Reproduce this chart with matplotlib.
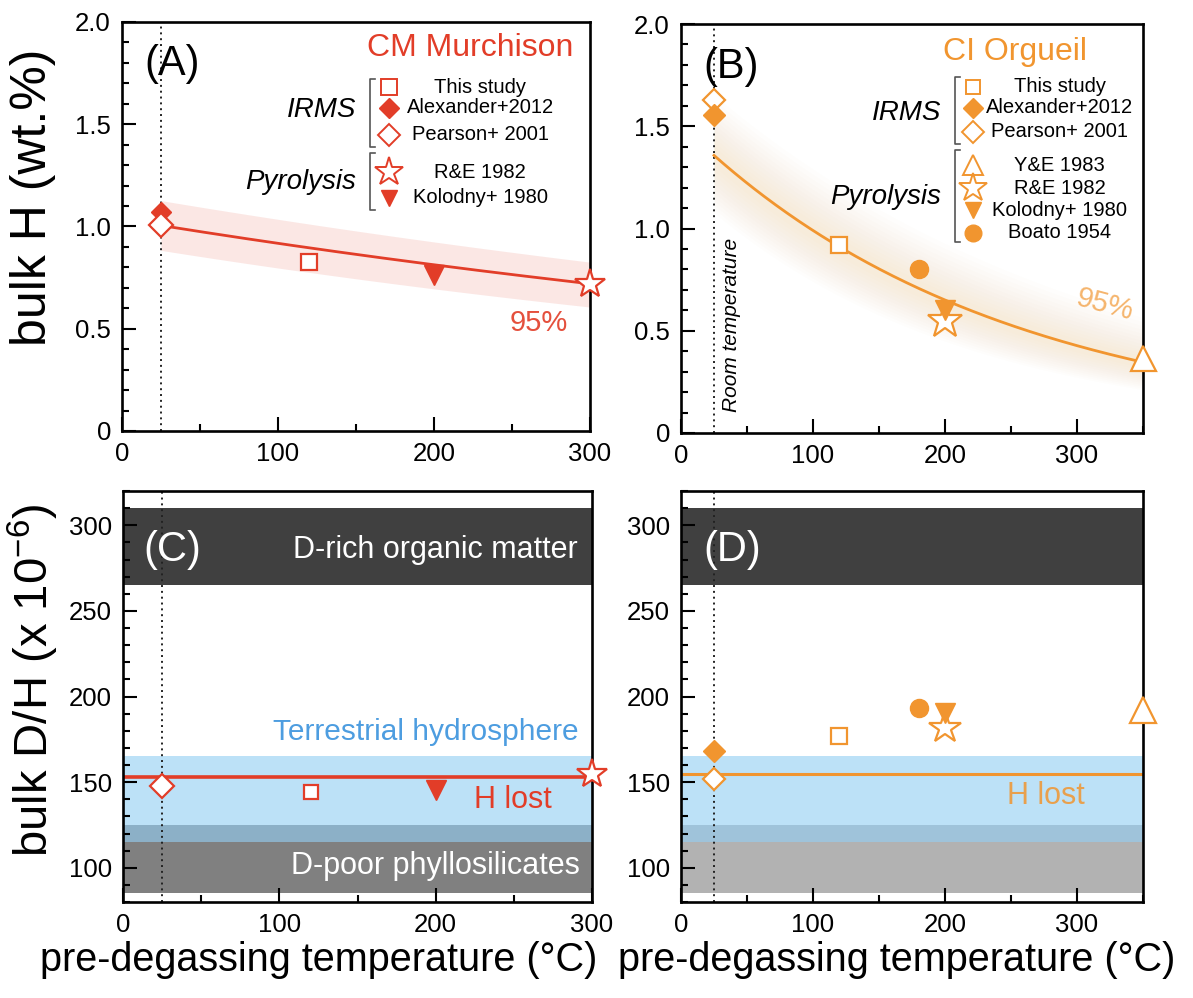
import numpy as np
import matplotlib
matplotlib.use("Agg")
import matplotlib.pyplot as plt
from matplotlib import font_manager
from matplotlib.lines import Line2D
from matplotlib.ticker import MultipleLocator, FuncFormatter

# ---------------- data ----------------
room_T = 25

# CM Murchison: bulk H (wt.%) and bulk D/H (x1e-6) vs pre-degassing temperature (°C)
cm_this_T, cm_this_H, cm_this_DH = [120], [0.826], [144]
cm_alex_T, cm_alex_H = [25], [1.07]
cm_pear_T, cm_pear_H, cm_pear_DH = [25], [1.005], [147.5]
cm_re_T, cm_re_H, cm_re_DH = [300], [0.72], [155]
cm_kol_T, cm_kol_H, cm_kol_DH = [200], [0.761], [145.5]
cm_hlost_DH = 153

# CI Orgueil
ci_this_T, ci_this_H, ci_this_DH = [120], [0.92], [177]
ci_alex_T, ci_alex_H, ci_alex_DH = [25], [1.554], [168]
ci_pear_T, ci_pear_H, ci_pear_DH = [25], [1.627], [152]
ci_ye_T, ci_ye_H, ci_ye_DH = [350], [0.366], [192]
ci_re_T, ci_re_H, ci_re_DH = [200], [0.546], [181.7]
ci_kol_T, ci_kol_H, ci_kol_DH = [200], [0.603], [190.5]
ci_boa_T, ci_boa_H, ci_boa_DH = [180], [0.80], [193]
ci_hlost_DH = 155

# exponential H-loss fits  H = amp * exp(-rate * T)  with 95% envelope
cm_fit = (1.036, 0.001213)
cm_fit_hi = (1.159, 0.00113)
cm_fit_lo = (0.914, 0.001369)
cm_fit_range = (25, 300)
ci_fit = (1.508, 0.004205)
ci_fit_hi = (1.745, 0.003458)
ci_fit_lo = (1.265, 0.00487)
ci_fit_range = (25, 350)

# D/H reference reservoirs (x1e-6)
d_rich_om = (265, 310)
terrestrial_hydro = (115, 165)
d_poor_phyllo = (85, 125)

# ---------------- style ----------------
def font_available(name):
    try:
        font_manager.findfont(font_manager.FontProperties(family=name),
                              fallback_to_default=False)
        return True
    except Exception:
        return False

BASE = "Liberation Sans" if font_available("Liberation Sans") else "DejaVu Sans"
NARROW = "Liberation Sans Narrow" if font_available("Liberation Sans Narrow") else BASE
plt.rcParams["font.family"] = [BASE, "DejaVu Sans"]
plt.rcParams["mathtext.default"] = "regular"

RED = "#e23d28"
ORANGE = "#f1952f"
BAND_OR = "#f7b34a"
BLUE_TXT = "#4d9de0"

W, H = 1193, 998
fig = plt.figure(figsize=(W / 100, H / 100), dpi=100)


def px_axes(x0, y0, x1, y1):
    return fig.add_axes([x0 / W, 1 - y1 / H, (x1 - x0) / W, (y1 - y0) / H])


axA = px_axes(122, 22, 590, 431)
axB = px_axes(681, 24, 1143, 433)
axC = px_axes(123, 491, 592, 902)
axD = px_axes(681, 491, 1143, 902)


def hfmt(v, _):
    return "0" if abs(v) < 1e-9 else f"{v:.1f}"


def style(ax, xmax, ylim, ymaj, ymin, fmt=None):
    ax.set_xlim(0, xmax)
    ax.set_ylim(*ylim)
    ax.xaxis.set_major_locator(MultipleLocator(100))
    ax.xaxis.set_minor_locator(MultipleLocator(50))
    ax.yaxis.set_major_locator(MultipleLocator(ymaj))
    ax.yaxis.set_minor_locator(MultipleLocator(ymin))
    if fmt:
        ax.yaxis.set_major_formatter(FuncFormatter(fmt))
    ax.tick_params(which="both", direction="in", top=False, right=False,
                   width=1.5, labelsize=18.5, pad=8, colors="black")
    ax.tick_params(which="major", length=10)
    ax.tick_params(which="minor", length=5)
    for s in ax.spines.values():
        s.set_linewidth(1.9)
    ax.axvline(room_T, color="#222222", ls=(0, (1, 2)), lw=1.4, zorder=1.5)


style(axA, 300, (0, 2.0), 0.5, 0.1, hfmt)
style(axB, 350, (0, 2.0), 0.5, 0.1, hfmt)
style(axC, 300, (80, 320), 50, 10)
style(axD, 350, (80, 320), 50, 10)


def expcurve(p, T):
    return p[0] * np.exp(-p[1] * T)


# ---- panel A: fit + band ----
TA = np.linspace(*cm_fit_range, 200)
axA.fill_between(TA, expcurve(cm_fit_lo, TA), expcurve(cm_fit_hi, TA),
                 color=RED, alpha=0.12, lw=0, zorder=1)
axA.plot(TA, expcurve(cm_fit, TA), color=RED, lw=2, zorder=2)

# ---- panel B: fit + soft band ----
TB = np.linspace(*ci_fit_range, 300)
midB = expcurve(ci_fit, TB)
hiB = expcurve(ci_fit_hi, TB)
loB = expcurve(ci_fit_lo, TB)
for s in np.linspace(1.2, 0.2, 12):
    axB.fill_between(TB, midB * (loB / midB) ** s, midB * (hiB / midB) ** s,
                     color=BAND_OR, alpha=0.014, lw=0, zorder=1)
axB.plot(TB, midB, color=ORANGE, lw=2, zorder=2)

mk = dict(clip_on=False, zorder=4, ls="none")


def open_(c, m, s, ew=1.6):
    return dict(marker=m, ms=s, mfc="white", mec=c, mew=ew, **mk)


def fill_(c, m, s):
    return dict(marker=m, ms=s, mfc=c, mec=c, mew=1, **mk)


# ---- panel A markers ----
axA.plot(cm_alex_T, cm_alex_H, **fill_(RED, "D", 10))
axA.plot(cm_pear_T, cm_pear_H, **open_(RED, "D", 12))
axA.plot(cm_this_T, cm_this_H, **open_(RED, "s", 11))
axA.plot(cm_kol_T, cm_kol_H, **fill_(RED, "v", 14))
axA.plot(cm_re_T, cm_re_H, **open_(RED, "*", 22))

# ---- panel B markers ----
axB.plot(ci_pear_T, ci_pear_H, **open_(ORANGE, "D", 11))
axB.plot(ci_alex_T, ci_alex_H, **fill_(ORANGE, "D", 11))
axB.plot(ci_this_T, ci_this_H, **open_(ORANGE, "s", 11))
axB.plot(ci_boa_T, ci_boa_H, **fill_(ORANGE, "o", 13))
axB.plot(ci_re_T, ci_re_H, **open_(ORANGE, "*", 26))
axB.plot(ci_kol_T, ci_kol_H, **fill_(ORANGE, "v", 14))
axB.plot(ci_ye_T, ci_ye_H, **open_(ORANGE, "^", 18))

# ---- panels C, D: reservoirs ----
for ax, grey in ((axC, "#808080"), (axD, "#b2b2b2")):
    ax.axhspan(*d_rich_om, color="#404040", lw=0, zorder=0.5)
    ax.axhspan(*d_poor_phyllo, color=grey, lw=0, zorder=0.5)
    ax.axhspan(*terrestrial_hydro, color="#94cff3", alpha=0.62, lw=0, zorder=0.6)

axC.axhline(cm_hlost_DH, color=RED, lw=2.6, zorder=2)
axC.plot(cm_pear_T, cm_pear_DH, **open_(RED, "D", 12))
axC.plot(cm_this_T, cm_this_DH, **open_(RED, "s", 10))
axC.plot(cm_kol_T, cm_kol_DH, **fill_(RED, "v", 14))
axC.plot(cm_re_T, cm_re_DH, **open_(RED, "*", 22))

axD.axhline(ci_hlost_DH, color=ORANGE, lw=2.2, zorder=2)
axD.plot(ci_alex_T, ci_alex_DH, **fill_(ORANGE, "D", 11))
axD.plot(ci_pear_T, ci_pear_DH, **open_(ORANGE, "D", 11))
axD.plot(ci_this_T, ci_this_DH, **open_(ORANGE, "s", 12))
axD.plot(ci_boa_T, ci_boa_DH, **fill_(ORANGE, "o", 13))
axD.plot(ci_re_T, ci_re_DH, **open_(ORANGE, "*", 24))
axD.plot(ci_kol_T, ci_kol_DH, **fill_(ORANGE, "v", 14))
axD.plot(ci_ye_T, ci_ye_DH, **open_(ORANGE, "^", 19))

# ---- texts ----
axA.text(0.047, 0.897, "(A)", transform=axA.transAxes, fontsize=30, va="center", ha="left")
axB.text(0.048, 0.895, "(B)", transform=axB.transAxes, fontsize=30, va="center", ha="left")
axC.text(0.043, 0.856, "(C)", transform=axC.transAxes, fontsize=30, va="center",
         ha="left", color="white")
axD.text(0.048, 0.856, "(D)", transform=axD.transAxes, fontsize=30, va="center",
         ha="left", color="white")

axA.text(0.964, 0.936, "CM Murchison", transform=axA.transAxes, fontsize=23,
         color=RED, ha="right", va="center")
axB.text(0.879, 0.932, "CI Orgueil", transform=axB.transAxes, fontsize=23,
         color=ORANGE, ha="right", va="center")

axA.text(267, 0.527, "95%", fontsize=21, color=RED, ha="center", va="center", alpha=0.9)
axB.text(321, 0.627, "95%", fontsize=21, color=ORANGE, ha="center", va="center",
         rotation=-15, alpha=0.7)
axB.text(0.11, 0.265, "Room temperature", transform=axB.transAxes, rotation=90,
         fontsize=15, style="italic", ha="center", va="center")

axC.text(0.97, 0.857, "D-rich organic matter", transform=axC.transAxes, fontsize=22,
         color="white", ha="right", va="center")
axC.text(0.972, 0.413, "Terrestrial hydrosphere", transform=axC.transAxes, fontsize=21.5,
         color=BLUE_TXT, ha="right", va="center")
axC.text(0.915, 0.248, "H lost", transform=axC.transAxes, fontsize=22,
         color=RED, ha="right", va="center")
axC.text(0.975, 0.087, "D-poor phyllosilicates", transform=axC.transAxes, fontsize=22,
         color="white", ha="right", va="center")
axD.text(0.874, 0.258, "H lost", transform=axD.transAxes, fontsize=22,
         color=ORANGE, ha="right", va="center", alpha=0.85)


# ---- grouped keys with brackets ----
def key_block(ax, color, groups, mx, tx, bx, fs=14.5):
    for gname, gy, top, bot, entries in groups:
        ax.text(bx - 0.03, gy, gname, transform=ax.transAxes, fontsize=20,
                style="italic", ha="right", va="center")
        ax.add_line(Line2D([bx + 0.011, bx, bx, bx + 0.011], [top, top, bot, bot],
                           transform=ax.transAxes, color="#555555", lw=1.2,
                           clip_on=False))
        for (label, y, style_kw) in entries:
            ax.add_line(Line2D([mx], [y], transform=ax.transAxes, **style_kw))
            ax.text(tx, y, label, transform=ax.transAxes, fontsize=fs,
                    ha="center", va="center")


def kopen(c, m, s, ew=1.4):
    return dict(marker=m, ms=s, mfc="white", mec=c, mew=ew, ls="none")


def kfill(c, m, s):
    return dict(marker=m, ms=s, mfc=c, mec=c, mew=1, ls="none")


key_block(axA, RED, [
    ("IRMS", 0.785, 0.861, 0.694, [
        ("This study", 0.841, kopen(RED, "s", 11)),
        ("Alexander+2012", 0.790, kfill(RED, "D", 10)),
        ("Pearson+ 2001", 0.724, kopen(RED, "D", 11)),
    ]),
    ("Pyrolysis", 0.609, 0.680, 0.540, [
        ("R&E 1982", 0.633, kopen(RED, "*", 21)),
        ("Kolodny+ 1980", 0.570, kfill(RED, "v", 12)),
    ]),
], mx=0.570, tx=0.765, bx=0.530)

key_block(axB, ORANGE, [
    ("IRMS", 0.782, 0.870, 0.707, [
        ("This study", 0.846, kopen(ORANGE, "s", 10)),
        ("Alexander+2012", 0.795, kfill(ORANGE, "D", 10)),
        ("Pearson+ 2001", 0.736, kopen(ORANGE, "D", 11)),
    ]),
    ("Pyrolysis", 0.577, 0.692, 0.467, [
        ("Y&E 1983", 0.655, kopen(ORANGE, "^", 14)),
        ("R&E 1982", 0.599, kopen(ORANGE, "*", 21)),
        ("Kolodny+ 1980", 0.545, kfill(ORANGE, "v", 12)),
        ("Boato 1954", 0.489, kfill(ORANGE, "o", 12)),
    ]),
], mx=0.632, tx=0.820, bx=0.593)

# ---- axis labels ----
fig.text(33 / W, 1 - 197 / H, "bulk H (wt.%)", rotation=90, fontsize=36,
         ha="center", va="center")
fig.text(33 / W, 1 - 680 / H, "bulk D/H (x 10$^{-6}$)", rotation=90, fontsize=34,
         ha="center", va="center")
for xc in (319, 897):
    fig.text(xc / W, 1 - 960 / H, "pre-degassing temperature (°C)",
             family=[NARROW, BASE, "DejaVu Sans"],
             fontsize=34 if NARROW != BASE else 28.5, ha="center", va="center")

fig.savefig("out.png", dpi=100)
